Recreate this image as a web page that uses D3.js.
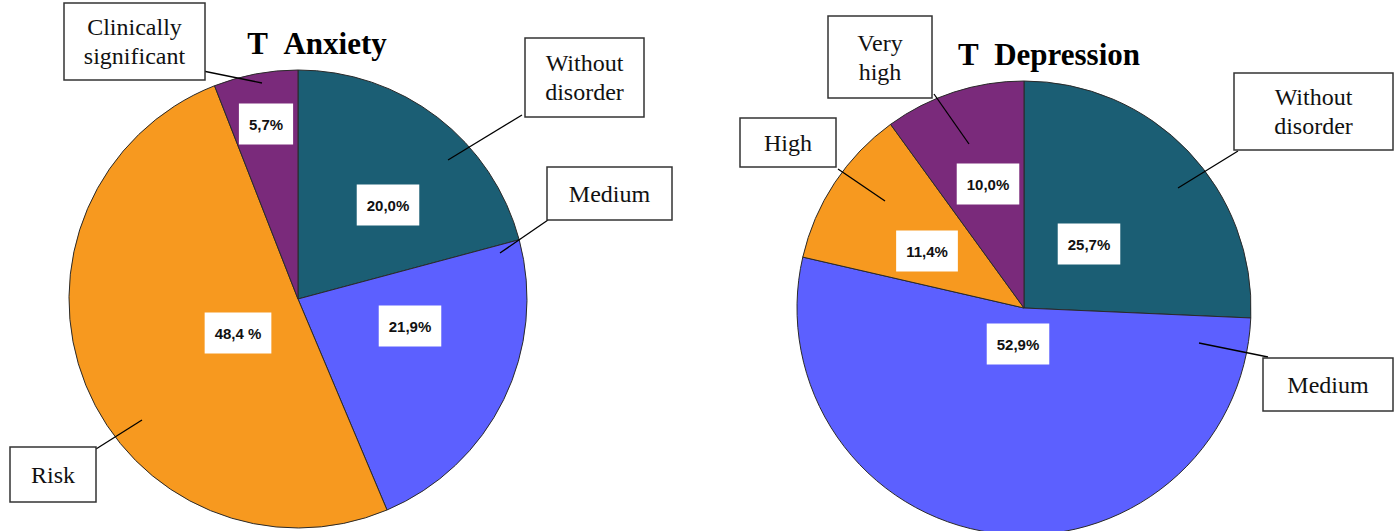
<!DOCTYPE html>
<html>
<head>
<meta charset="utf-8">
<script src="https://cdn.jsdelivr.net/npm/d3@7"></script>
<style>
  html, body { margin: 0; padding: 0; background: #fff; }
  svg { display: block; }
  .serif { font-family: "Liberation Serif", "Times New Roman", Times, serif; }
  .sans { font-family: "Liberation Sans", Arial, Helvetica, sans-serif; }
</style>
</head>
<body>
<svg id="chart" width="1398" height="531"></svg>
<script>
// ---- DATA ----
const anxietyCategories = ["Without disorder", "Medium", "Risk", "Clinically significant"];
const anxietyValues = [20.0, 21.9, 48.4, 5.7];
const anxietyPctLabels = ["20,0%", "21,9%", "48,4 %", "5,7%"];
const anxietyBoxLines = [["Without", "disorder"], ["Medium"], ["Risk"], ["Clinically", "significant"]];

const depressionCategories = ["Without disorder", "Medium", "High", "Very high"];
const depressionValues = [25.7, 52.9, 11.4, 10.0];
const depressionPctLabels = ["25,7%", "52,9%", "11,4%", "10,0%"];
const depressionBoxLines = [["Without", "disorder"], ["Medium"], ["High"], ["Very", "high"]];

const colors = ["#1B5E74", "#5C60FF", "#F7991F", "#7A2A7B"];

// ---- LAYOUT ----
const charts = [
  {
    title: "T\u00a0\u00a0Anxiety", titleX: 317, titleY: 54,
    cx: 298, cy: 299, r: 229,
    cats: anxietyCategories, vals: anxietyValues, pcts: anxietyPctLabels, lines: anxietyBoxLines,
    pctPos: [[388, 205], [410, 326], [238, 333], [266, 124]],
    boxes: [
      {x: 525, y: 38, w: 119, h: 79, l: [522, 115, 448, 160]},
      {x: 547, y: 167, w: 125, h: 53, l: [548, 220, 500, 253]},
      {x: 10, y: 447, w: 86, h: 55, l: [96, 449, 142, 420]},
      {x: 64, y: 3, w: 141, h: 77, l: [203, 71, 262, 83]}
    ]
  },
  {
    title: "T\u00a0\u00a0Depression", titleX: 1049, titleY: 65,
    cx: 1024, cy: 308, r: 227,
    cats: depressionCategories, vals: depressionValues, pcts: depressionPctLabels, lines: depressionBoxLines,
    pctPos: [[1089, 244], [1018, 344], [927, 251], [988, 184]],
    boxes: [
      {x: 1234, y: 73, w: 159, h: 77, l: [1238, 151, 1178, 188]},
      {x: 1263, y: 358, w: 130, h: 53, l: [1268, 357, 1199, 343]},
      {x: 740, y: 118, w: 96, h: 49, l: [838, 169, 885, 201]},
      {x: 828, y: 16, w: 104, h: 82, l: [934, 94, 969, 144]}
    ]
  }
];

const svg = d3.select("#chart");
const pie = d3.pie().sort(null).value(d => d);

charts.forEach(c => {
  const color = d3.scaleOrdinal().domain(c.cats).range(colors);
  const arc = d3.arc().innerRadius(0).outerRadius(c.r);
  const g = svg.append("g").attr("transform", `translate(${c.cx},${c.cy})`);
  const arcs = pie(c.vals);
  g.selectAll("path.slice").data(arcs).enter().append("path")
    .attr("class", "slice")
    .attr("d", arc)
    .attr("fill", (d, i) => color(c.cats[i]))
    .attr("stroke", "#2a2a2a")
    .attr("stroke-width", 1);

  // title
  svg.append("text")
    .attr("class", "serif")
    .attr("x", c.titleX).attr("y", c.titleY)
    .attr("text-anchor", "middle")
    .attr("font-weight", "bold")
    .attr("font-size", 31)
    .attr("fill", "#000")
    .text(c.title);

  // percentage labels
  c.pcts.forEach((t, i) => {
    const [px, py] = c.pctPos[i];
    const lg = svg.append("g");
    const txt = lg.append("text")
      .attr("class", "sans")
      .attr("x", px).attr("y", py + 5.5)
      .attr("text-anchor", "middle")
      .attr("font-weight", "bold")
      .attr("font-size", 15)
      .attr("fill", "#111")
      .text(t);
    const bb = txt.node().getBBox();
    const w = bb.width + 20, h = 41;
    lg.insert("rect", "text")
      .attr("x", px - w / 2).attr("y", py - h / 2)
      .attr("width", w).attr("height", h)
      .attr("fill", "#fff");
  });

  // category boxes with leader lines
  c.boxes.forEach((b, i) => {
    svg.append("line")
      .attr("x1", b.l[0]).attr("y1", b.l[1])
      .attr("x2", b.l[2]).attr("y2", b.l[3])
      .attr("stroke", "#000").attr("stroke-width", 1.3);
    svg.append("rect")
      .attr("x", b.x).attr("y", b.y).attr("width", b.w).attr("height", b.h)
      .attr("fill", "#fff").attr("stroke", "#333").attr("stroke-width", 1.5);
    const lines = c.lines[i];
    const lh = 29;
    const midY = b.y + b.h / 2;
    const firstBase = midY - (lines.length - 1) * lh / 2 + 8;
    lines.forEach((ln, j) => {
      svg.append("text")
        .attr("class", "serif")
        .attr("x", b.x + b.w / 2)
        .attr("y", firstBase + j * lh)
        .attr("text-anchor", "middle")
        .attr("font-size", 24)
        .attr("fill", "#111")
        .text(ln);
    });
  });
});
</script>
</body>
</html>
